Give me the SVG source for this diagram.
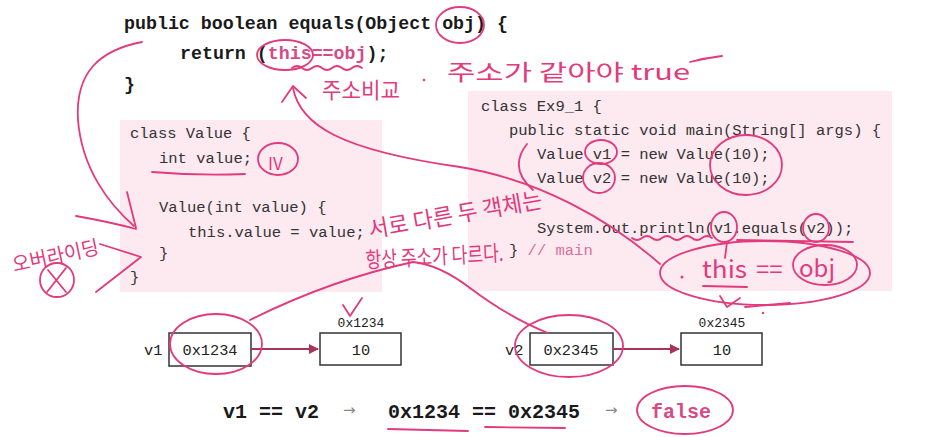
<svg xmlns="http://www.w3.org/2000/svg" width="929" height="437" viewBox="0 0 929 437">
<defs>
<style>
.code{font-family:"Liberation Mono","DejaVu Sans Mono",monospace;fill:#222;}
.top{font-size:18.3px;font-weight:bold;fill:#1a1a1a;}
.box{font-size:15.5px;fill:#333;}
.pinkt{fill:#d84a86;}
.hand{font-family:"Noto Sans CJK KR","Noto Sans",sans-serif;fill:#e23a7c;font-weight:400;}
.ink{fill:none;stroke:#e23a7c;stroke-width:1.8;stroke-linecap:round;stroke-linejoin:round;}
.panel{fill:#fde9f0;}
.cell{fill:#fff;stroke:#333;stroke-width:1.5;}
.lbl{font-family:"Liberation Mono","DejaVu Sans Mono",monospace;fill:#222;font-size:13px;}
.val{font-family:"Liberation Mono","DejaVu Sans Mono",monospace;fill:#222;font-size:15.3px;}
.ref{stroke:#a8345a;stroke-width:2;fill:none;}
.expr{font-family:"Liberation Mono","DejaVu Sans Mono",monospace;font-size:20px;font-weight:bold;fill:#1a1a1a;}
.arr{font-family:"DejaVu Sans",sans-serif;font-size:15px;fill:#888;}
</style>
<marker id="ah" viewBox="0 0 10 10" refX="9" refY="5" markerWidth="5" markerHeight="5" orient="auto"><path d="M0,0 L10,5 L0,10 z" fill="#a8345a"/></marker>
</defs>
<rect width="929" height="437" fill="#fff"/>

<g id="equals-method">
<text class="code top" x="124" y="29">public boolean equals(Object obj) {</text>
<text class="code top" x="180" y="59">return (<tspan fill="#d84a86">this==obj</tspan>);</text>
<text class="code top" x="124" y="90">}</text>
</g>

<g id="class-value">
<rect class="panel" x="120" y="120" width="262" height="172"/>
<text class="code box" x="130" y="138">class Value {</text>
<text class="code box" x="159" y="163">int value;</text>
<text class="code box" x="159" y="212">Value(int value) {</text>
<text class="code box" x="188" y="237">this.value = value;</text>
<text class="code box" x="159" y="258">}</text>
<text class="code box" x="130" y="282">}</text>
</g>

<g id="class-ex9_1">
<rect class="panel" x="468" y="91" width="424" height="200"/>
<text class="code box" x="481" y="111">class Ex9_1 {</text>
<text class="code box" x="509" y="135">public static void main(String[] args) {</text>
<text class="code box" x="537" y="159">Value v1 = new Value(10);</text>
<text class="code box" x="537" y="183">Value v2 = new Value(10);</text>
<text class="code box" x="537" y="233">System.out.println(v1.equals(v2));</text>
<text class="code box" x="509" y="255">} <tspan fill="#d9709a">// main</tspan></text>
</g>

<g id="v1-ref">
<text class="val" x="144" y="355">v1</text>
<rect class="cell" x="169" y="333" width="82" height="33"/>
<text class="val" x="210" y="355" text-anchor="middle">0x1234</text>
</g>
<g id="obj1">
<text class="lbl" x="361" y="327" text-anchor="middle">0x1234</text>
<rect class="cell" x="320" y="333" width="81" height="32"/>
<text class="val" x="361" y="355" text-anchor="middle">10</text>
</g>
<g id="v2-ref">
<text class="val" x="505" y="355">v2</text>
<rect class="cell" x="530" y="333" width="83" height="32"/>
<text class="val" x="571" y="355" text-anchor="middle">0x2345</text>
</g>
<g id="obj2">
<text class="lbl" x="722" y="327" text-anchor="middle">0x2345</text>
<rect class="cell" x="681" y="333" width="81" height="32"/>
<text class="val" x="722" y="355" text-anchor="middle">10</text>
</g>

<g id="connectors">
<line class="ref" x1="251" y1="349" x2="318" y2="349" marker-end="url(#ah)"/>
<line class="ref" x1="613" y1="349" x2="679" y2="349" marker-end="url(#ah)"/>
</g>

<g id="expression">
<text class="expr" x="223" y="418">v1 == v2</text>
<text class="arr" x="343" y="415">→</text>
<text class="expr" x="388" y="418">0x1234 == 0x2345</text>
<text class="arr" x="605" y="415">→</text>
<text class="expr" x="651" y="418" style="fill:#d84a86">false</text>
</g>

<g id="annotations">
<ellipse class="ink" cx="460" cy="25" rx="24" ry="18"/>
<ellipse class="ink" cx="285" cy="55" rx="28" ry="15"/>
<path class="ink" d="M292 68 q5 -4 10 0 t10 0 t10 0 t10 0 t10 0 t10 0 t10 0"/>
<path class="ink" d="M282 102 L293 86 L306 98"/>
<path class="ink" d="M293 88 C300 125 340 150 460 167 C540 180 610 220 660 264"/>
<text class="hand" x="322" y="98" font-size="22" textLength="78" lengthAdjust="spacingAndGlyphs">주소비교</text>
<circle cx="424" cy="80" r="1.3" fill="#e23a7c"/>
<text class="hand" x="447" y="80" font-size="22" textLength="243" lengthAdjust="spacingAndGlyphs">주소가 같아야 true</text>
<path class="ink" d="M690 62 Q705 58 722 56"/>
<path class="ink" d="M142 42 C100 50 75 72 78 120 C82 170 110 205 134 226"/>
<path class="ink" d="M127 192 Q132 212 136 228 M76 216 Q110 222 136 229"/>
<text class="hand" x="14" y="272" font-size="20" textLength="88" lengthAdjust="spacingAndGlyphs" transform="rotate(-12 14 272)">오버라이딩</text>
<path class="ink" d="M100 244 L141 257 L96 292"/>
<circle class="ink" cx="57" cy="280" r="17"/>
<path class="ink" d="M48 270 L66 292 M66 268 L47 292"/>
<ellipse class="ink" cx="278" cy="159" rx="20" ry="16"/>
<text class="hand" x="268" y="170" font-size="17">IV</text>
<path class="ink" d="M152 172 Q200 176 245 174"/>
<text class="hand" x="370" y="238" font-size="23" textLength="176" lengthAdjust="spacingAndGlyphs" transform="rotate(-10 370 238)">서로 다른 두 객체는</text>
<text class="hand" x="366" y="268" font-size="22" textLength="138" lengthAdjust="spacingAndGlyphs" transform="rotate(-3 366 268)">항상 주소가 다르다.</text>
<path class="ink" d="M250 320 Q330 280 413 262 Q440 265 470 288 Q510 318 548 333"/>
<ellipse class="ink" cx="216" cy="344" rx="46" ry="30"/>
<ellipse class="ink" cx="569" cy="346" rx="54" ry="31"/>
<path class="ink" d="M343 305 L350 316 L362 298"/>
<ellipse class="ink" cx="601" cy="152" rx="16" ry="12"/>
<ellipse class="ink" cx="599" cy="178" rx="16" ry="15"/>
<ellipse class="ink" cx="746" cy="165" rx="36" ry="30"/>
<path class="ink" d="M527 144 Q508 168 533 190"/>
<ellipse class="ink" cx="724" cy="227" rx="13" ry="15"/>
<path class="ink" d="M727 242 L725 258"/>
<ellipse class="ink" cx="816" cy="228" rx="13" ry="14"/>
<path class="ink" d="M632 238 q5 4 10 0 t10 0 t10 0 t10 0 t10 0 t10 0 t10 0 t10 0"/>
<path class="ink" d="M737 240 L853 242"/>
<ellipse class="ink" cx="765" cy="273" rx="105" ry="32"/>
<circle cx="682" cy="277" r="1.5" fill="#e23a7c"/>
<text class="hand" x="702" y="278" font-size="24" textLength="45" lengthAdjust="spacingAndGlyphs">this</text>
<path class="ink" d="M703 286 L747 287"/>
<text class="hand" x="756" y="278" font-size="24">==</text>
<text class="hand" x="799" y="277" font-size="24">obj</text>
<ellipse class="ink" cx="825" cy="265" rx="32" ry="20"/>
<path class="ink" d="M720 296 L727 307 L740 298"/>
<path class="ink" d="M745 307 L790 303"/>
<circle cx="763" cy="313" r="1.2" fill="#e23a7c"/>
<path class="ink" d="M388 429 L468 431"/>
<path class="ink" d="M485 427 L565 428"/>
<ellipse class="ink" cx="685" cy="410" rx="48" ry="24"/>
</g>
</svg>
